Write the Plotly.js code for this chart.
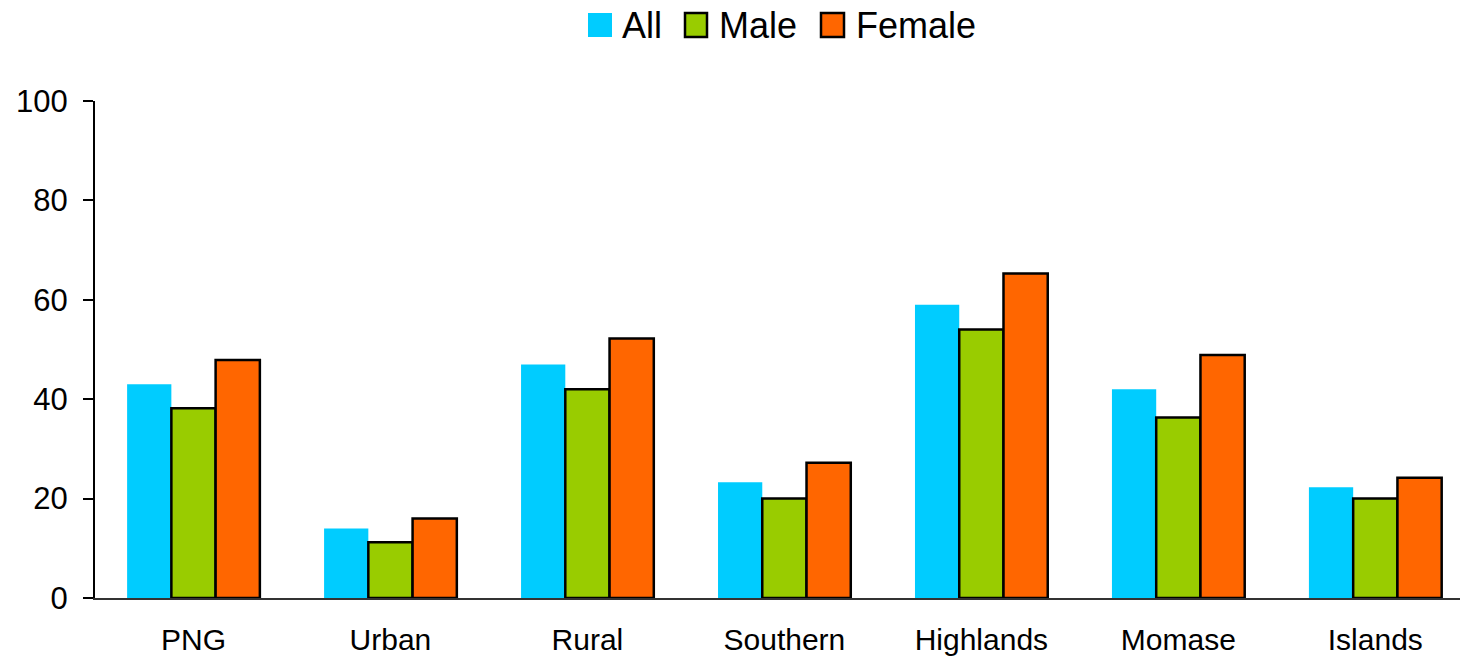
<!DOCTYPE html>
<html>
<head>
<meta charset="utf-8">
<script src="https://cdn.plot.ly/plotly-3.0.1.min.js"></script>
<style>
html,body{margin:0;padding:0;background:#fff;}
#chart{width:1460px;height:659px;}
</style>
</head>
<body>
<div id="chart"></div>
<script>
const categories = ["PNG", "Urban", "Rural", "Southern", "Highlands", "Momase", "Islands"];
const seriesNames = ["All", "Male", "Female"];
const allValues = [43, 14, 47, 23.3, 59, 42, 22.3];
const maleValues = [38.2, 11.2, 42, 20, 54, 36.3, 20];
const femaleValues = [47.9, 16, 52.2, 27.2, 65.3, 48.9, 24.2];
const yTicks = [0, 20, 40, 60, 80, 100];

const colors = ["#00CCFF", "#99CC00", "#FF6600"];
const outlines = [0, 2.5, 2.5];
const values = [allValues, maleValues, femaleValues];

const traces = seriesNames.map((n, i) => ({
  type: "bar", name: n, x: categories, y: values[i],
  marker: {color: colors[i], line: {color: "#000", width: outlines[i]}}
}));

// custom legend (pixel layout -> paper coords)
const W = 1460, H = 659, L = 95, R = 0, T = 101, B = 61;
const pw = W - L - R, ph = H - T - B;
const px = v => (v - L) / pw;
const py = v => (H - B - v) / ph;
const legSq = [[588, 612], [685, 707], [821, 844]];
const legTxt = [620, 717, 854];
const shapes = [], annotations = [];
seriesNames.forEach((n, i) => {
  shapes.push({type: "rect", xref: "paper", yref: "paper",
    x0: px(legSq[i][0]), x1: px(legSq[i][1]), y0: py(37), y1: py(13),
    fillcolor: colors[i], line: {color: "#000", width: outlines[i]}});
  annotations.push({xref: "paper", yref: "paper", x: px(legTxt[i]), y: py(25),
    xanchor: "left", yanchor: "middle", showarrow: false, text: n,
    font: {size: 36, color: "#000"}});
});

const layout = {
  width: W, height: H,
  margin: {l: L, r: R, t: T, b: B, pad: 0},
  paper_bgcolor: "#fff", plot_bgcolor: "#fff",
  font: {family: "Liberation Sans, Arial, sans-serif", color: "#000"},
  barmode: "group",
  bargap: 0.326, bargroupgap: 0,
  showlegend: false,
  shapes: shapes, annotations: annotations,
  xaxis: {range: [-0.5, 6.43], showline: true, linecolor: "#333", linewidth: 2,
          ticks: "", tickfont: {size: 30}, ticklabelstandoff: 14,
          showgrid: false, zeroline: false, fixedrange: true},
  yaxis: {range: [0, 100], tickvals: yTicks, ticktext: yTicks.map(String),
          showline: true, linecolor: "#000", linewidth: 2,
          ticks: "outside", ticklen: 10, tickwidth: 2, tickcolor: "#000",
          tickfont: {size: 31}, ticklabelstandoff: 9,
          showgrid: false, zeroline: false, fixedrange: true}
};

Plotly.newPlot("chart", traces, layout, {displayModeBar: false, staticPlot: true});
</script>
</body>
</html>
